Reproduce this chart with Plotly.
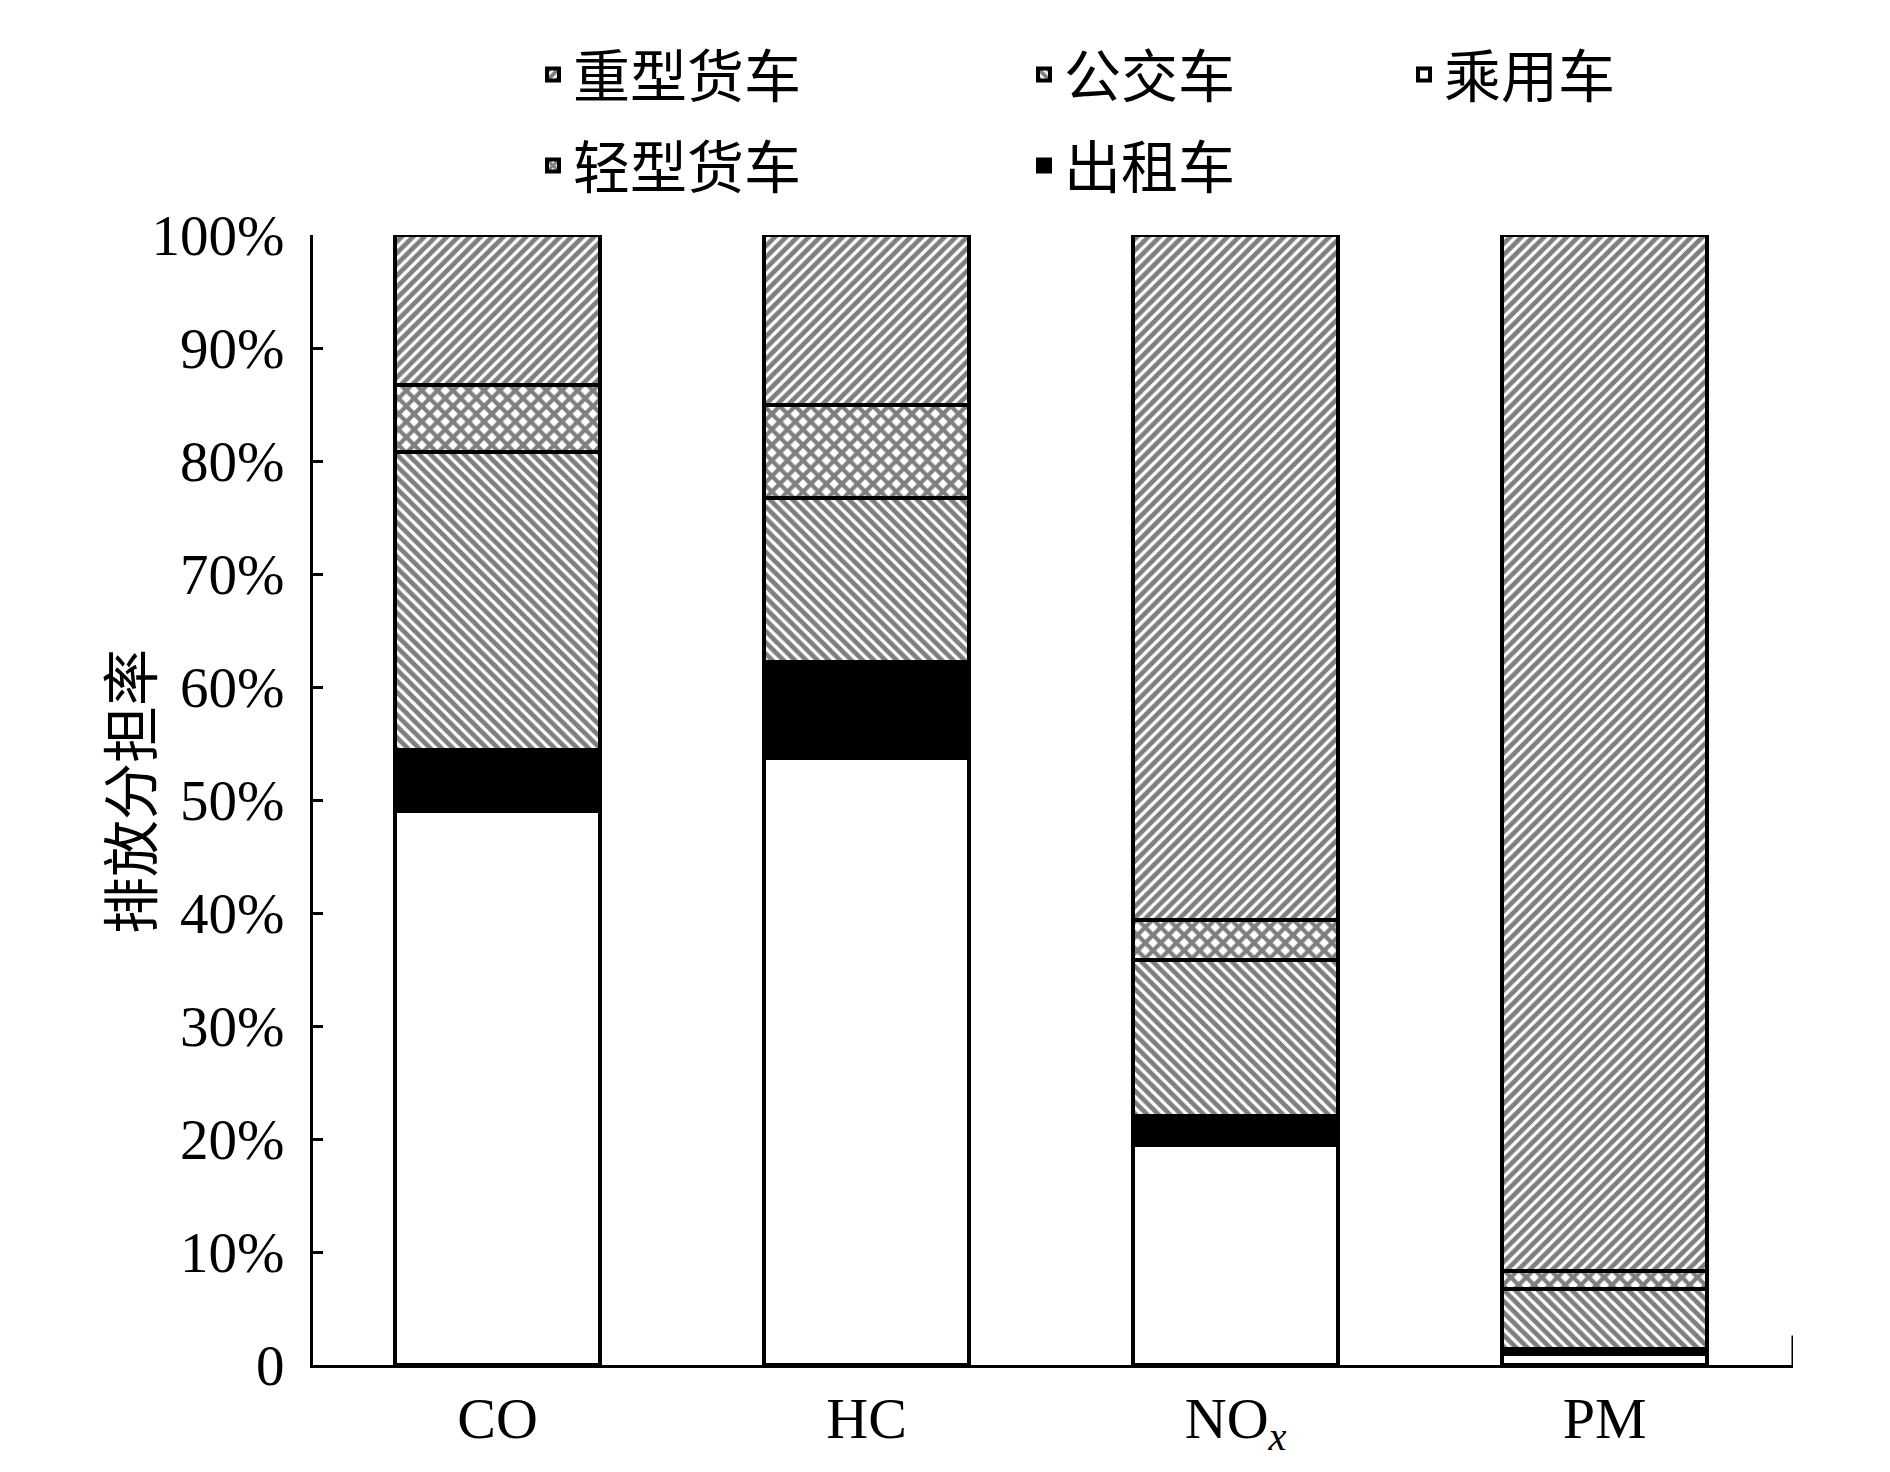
import plotly.graph_objects as go

categories = ["CO", "HC", "NO<sub><i>x</i></sub>", "PM"]
series_names = ["乘用车", "出租车", "公交车", "轻型货车", "重型货车"]
passenger = [49.0, 53.7, 19.5, 1.0]
taxi = [5.4, 8.5, 2.5, 0.4]
bus = [26.4, 14.5, 13.8, 5.3]
light_truck = [5.9, 8.3, 3.6, 1.6]
heavy_truck = [13.3, 15.0, 60.6, 91.7]
y_tickvals = [0, 10, 20, 30, 40, 50, 60, 70, 80, 90, 100]
y_ticktext = ["0", "10%", "20%", "30%", "40%", "50%", "60%", "70%", "80%", "90%", "100%"]
y_title = "排放分担率"

values = [passenger, taxi, bus, light_truck, heavy_truck]
styles = [
    dict(color="white", pattern=None),
    dict(color="black", pattern=None),
    dict(color="white", pattern=dict(shape="\\", fgcolor="black", bgcolor="white", size=8, solidity=0.6)),
    dict(color="white", pattern=dict(shape="x", fgcolor="black", bgcolor="white", size=11, solidity=0.62)),
    dict(color="white", pattern=dict(shape="/", fgcolor="black", bgcolor="white", size=8, solidity=0.6)),
]
legends = ["legend5", "legend4", "legend3", "legend2", "legend"]

cjk = "Noto Sans CJK SC"
serif = "Times New Roman, Liberation Serif, serif"

fig = go.Figure()
x_idx = list(range(len(categories)))
for name, vals, st, lg in zip(series_names, values, styles, legends):
    marker = dict(color=st["color"], line=dict(color="black", width=4))
    if st["pattern"] is not None:
        marker["pattern"] = st["pattern"]
    fig.add_trace(go.Bar(
        x=x_idx, y=vals, name=name, width=0.556,
        marker=marker, legend=lg,
    ))

def leg(x, y):
    return dict(x=x, y=y, xanchor="left", yanchor="middle", orientation="v",
                bgcolor="rgba(0,0,0,0)", font=dict(family=cjk, size=57, color="black"),
                itemwidth=30)

W = 1480.0
H = 1130.0
r1 = 1 + (235 - 75) / H
r2 = 1 + (235 - 166) / H
c1 = (533 - 313) / W
c2 = (1024 - 313) / W
c3 = (1404 - 313) / W

fig.update_layout(
    barmode="stack",
    width=1890, height=1472,
    margin=dict(l=313, r=97, t=235, b=107),
    plot_bgcolor="white", paper_bgcolor="white",
    showlegend=True,
    legend=leg(c1, r1), legend2=leg(c1, r2), legend3=leg(c2, r1),
    legend4=leg(c2, r2), legend5=leg(c3, r1),
    xaxis=dict(range=[-0.5, 3.51], tickvals=x_idx, ticktext=categories,
               showline=True, linecolor="black", linewidth=3, ticks="",
               showgrid=False, zeroline=False,
               tickfont=dict(family=serif, size=58, color="black")),
    yaxis=dict(range=[0, 100], tickvals=y_tickvals, ticktext=y_ticktext,
               showline=True, linecolor="black", linewidth=3, ticks="inside",
               ticklen=10, tickwidth=3, tickcolor="black",
               showgrid=False, zeroline=False,
               tickfont=dict(family=serif, size=57, color="black"),
               ticklabelstandoff=14),
)
fig.add_annotation(text=y_title, xref="paper", yref="paper",
                   x=(127 - 313) / W, y=(1365 - 792) / H, xanchor="center", yanchor="middle",
                   textangle=-90, showarrow=False,
                   font=dict(family=cjk, size=57, color="black"))
fig.add_shape(type="line", xref="x", yref="y", x0=3.51, x1=3.51, y0=0, y1=2.6,
              line=dict(color="black", width=3))

fig.write_html("out.html")
